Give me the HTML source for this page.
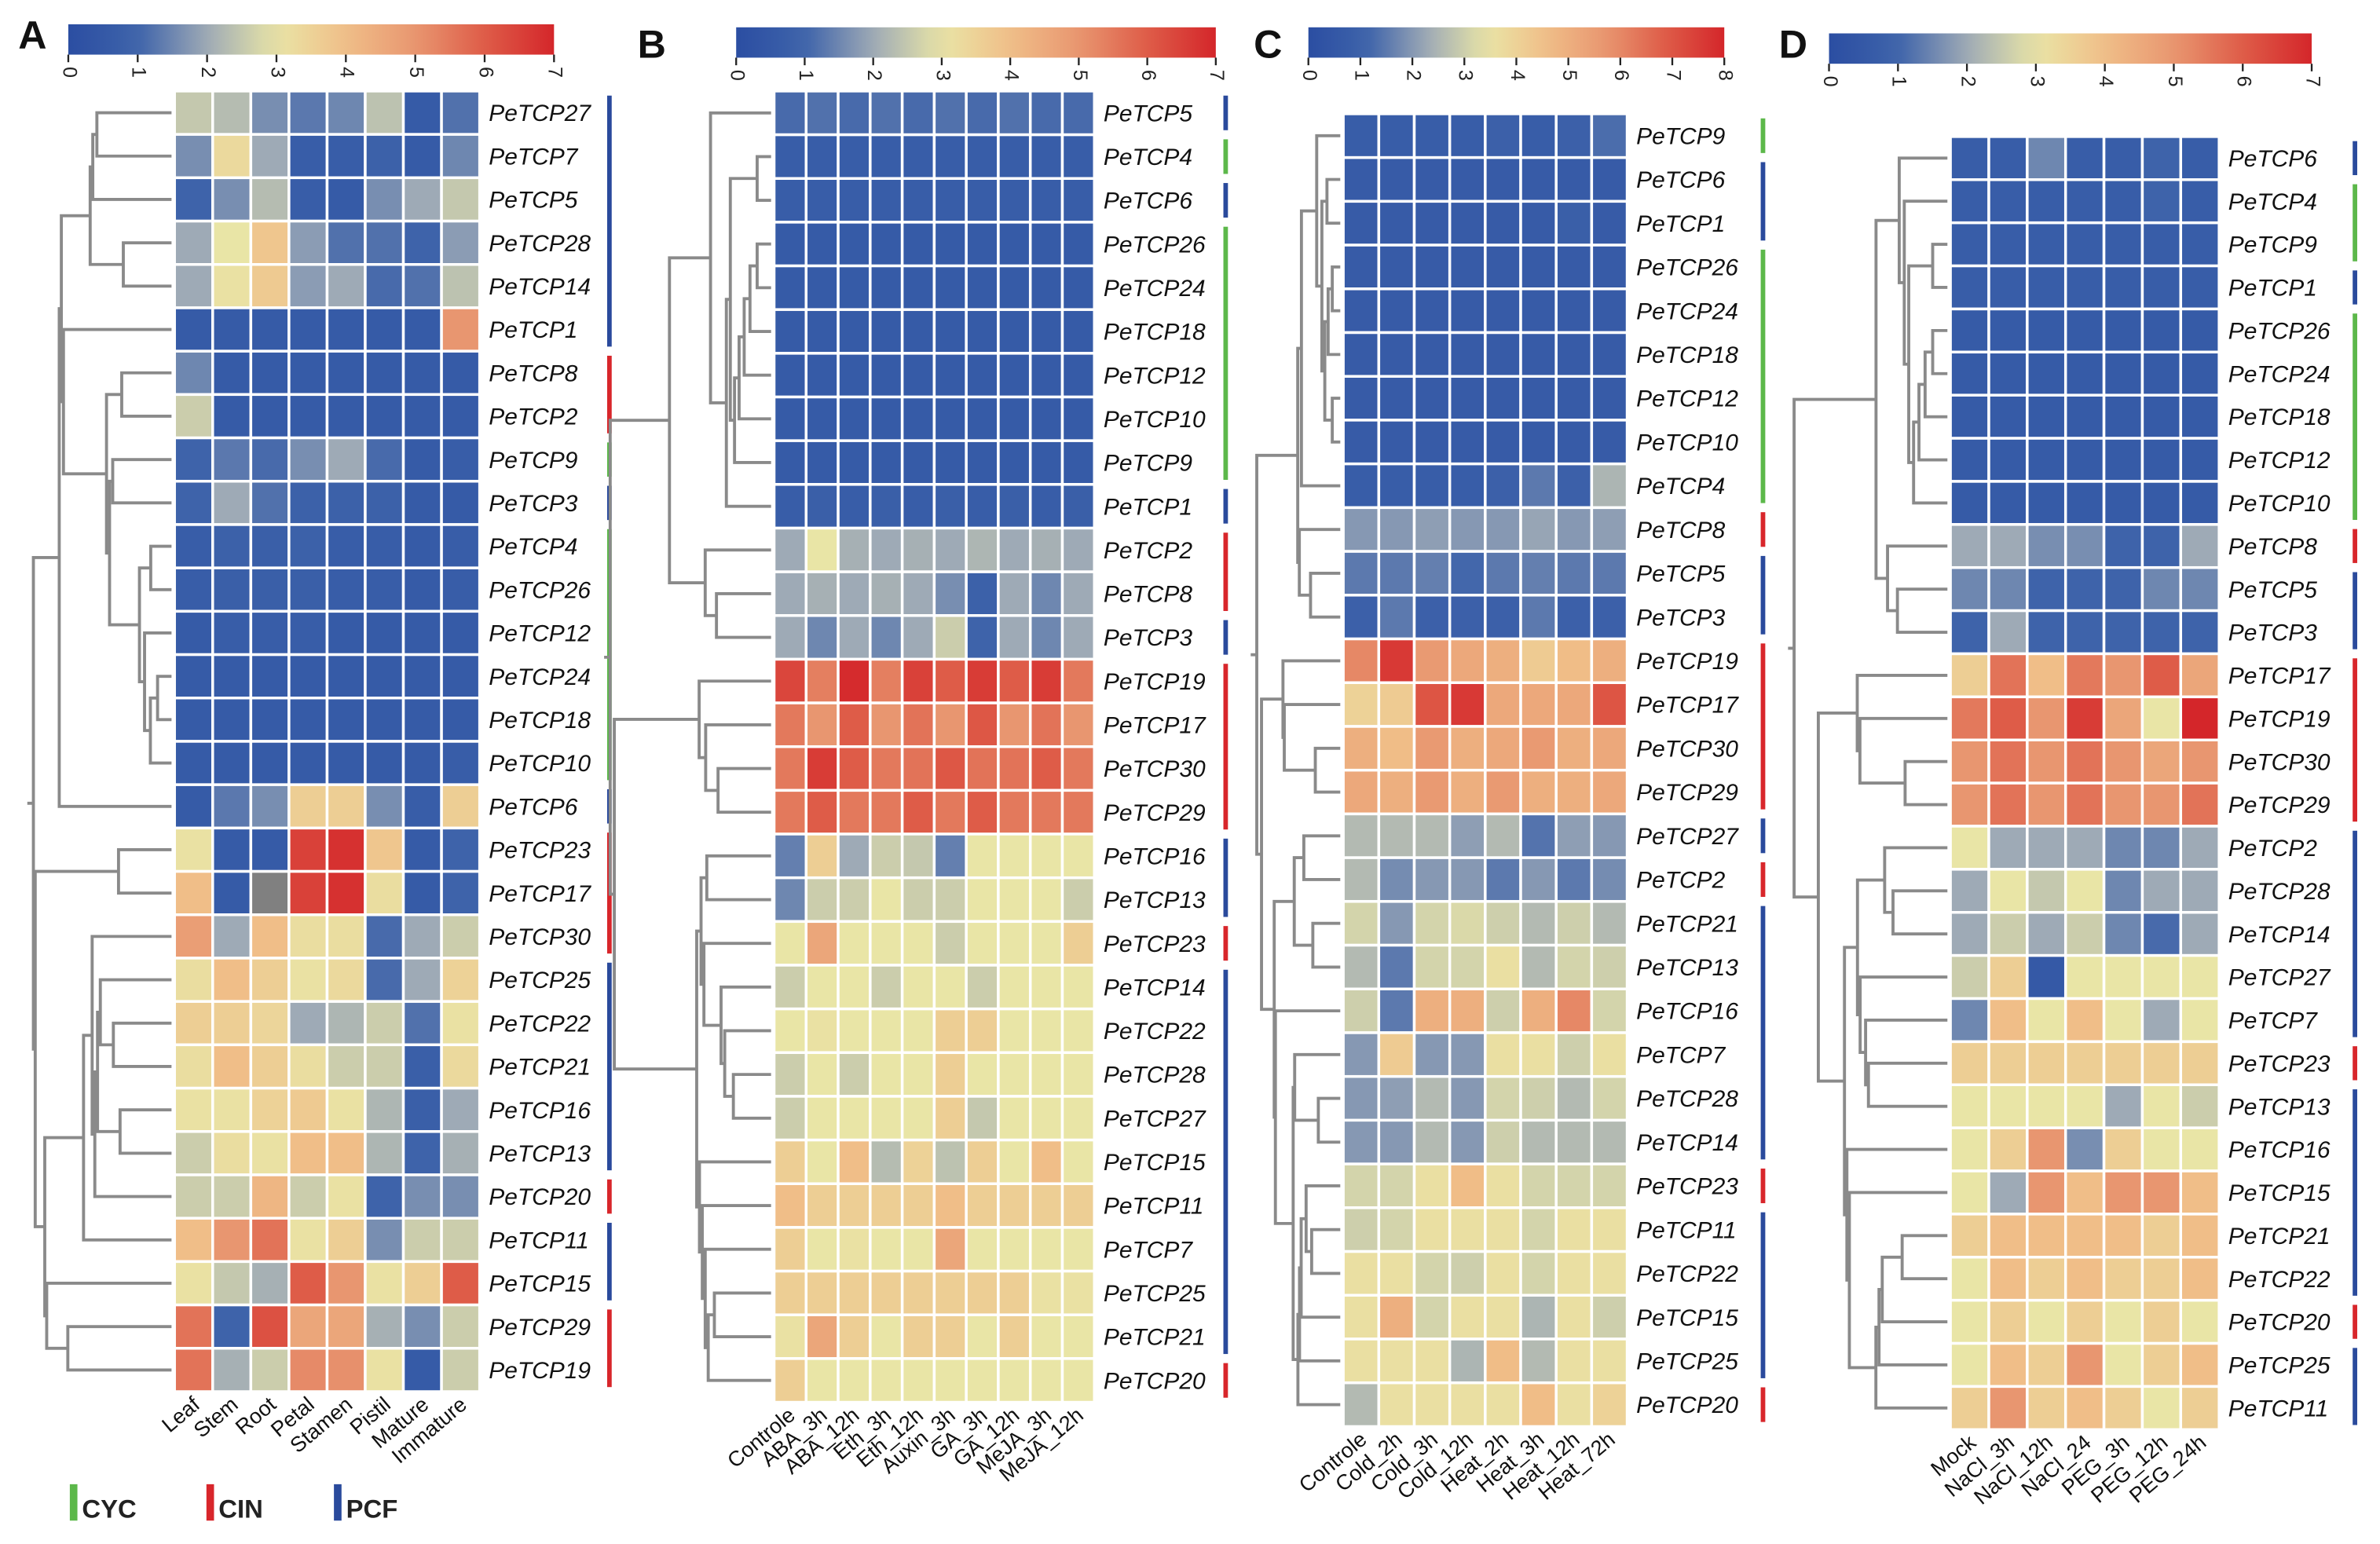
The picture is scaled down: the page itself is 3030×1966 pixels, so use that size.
<!DOCTYPE html>
<html><head><meta charset="utf-8"><style>
html,body{margin:0;padding:0;background:#fff}
svg{display:block}
text{font-family:"Liberation Sans",sans-serif}
</style></head><body>
<svg id="fig" xmlns="http://www.w3.org/2000/svg" width="3030" height="1966" viewBox="0 0 1568 1017.4" preserveAspectRatio="none">
<rect width="1568" height="1018" fill="#fff"/>
<g>
<rect x="46" y="978" width="5" height="24" fill="#5cb84a"/><text x="54" y="1000" font-size="17" font-weight="bold" fill="#222">CYC</text>
<rect x="136" y="978" width="5" height="24" fill="#d8262b"/><text x="144" y="1000" font-size="17" font-weight="bold" fill="#222">CIN</text>
<rect x="220" y="978" width="5" height="24" fill="#2a4a9c"/><text x="228" y="1000" font-size="17" font-weight="bold" fill="#222">PCF</text>
</g>
</svg>
<script>
// ---------- Panel A data ----------
const rowsA=["PeTCP27","PeTCP7","PeTCP5","PeTCP28","PeTCP14","PeTCP1","PeTCP8","PeTCP2","PeTCP9","PeTCP3","PeTCP4","PeTCP26","PeTCP12","PeTCP24","PeTCP18","PeTCP10","PeTCP6","PeTCP23","PeTCP17","PeTCP30","PeTCP25","PeTCP22","PeTCP21","PeTCP16","PeTCP13","PeTCP20","PeTCP11","PeTCP15","PeTCP29","PeTCP19"];
const colsA=["Leaf","Stem","Root","Petal","Stamen","Pistil","Mature","Immature"];
const valsA=[
[2.5,2.3,1.6,1.3,1.5,2.4,0.6,1.2],[1.6,3.3,2,0.7,0.7,0.9,0.6,1.5],[1,1.6,2.3,0.7,0.6,1.6,2,2.5],[2,3,3.8,1.8,1.2,1.2,1,1.8],[2,3.1,3.7,1.8,2,1.1,1.2,2.4],
[0.6,0.6,0.6,0.6,0.6,0.6,0.6,5],[1.5,0.6,0.6,0.6,0.6,0.6,0.6,0.6],[2.6,0.6,0.6,0.6,0.6,0.6,0.6,0.6],[1,1.3,1.1,1.6,2,1.1,0.6,0.7],[1,2,1.2,0.9,0.9,0.9,0.6,0.6],
[0.7,0.9,0.8,0.9,0.7,0.7,0.6,0.7],[0.7,0.8,0.8,0.8,0.7,0.7,0.6,0.7],[0.6,0.7,0.7,0.7,0.6,0.6,0.6,0.6],[0.6,0.6,0.6,0.6,0.6,0.6,0.6,0.6],[0.6,0.6,0.6,0.6,0.6,0.6,0.6,0.6],[0.6,0.6,0.6,0.6,0.6,0.6,0.6,0.7],
[0.6,1.3,1.6,3.6,3.6,1.6,0.7,3.6],[3.1,0.6,0.6,6.5,6.8,3.8,0.6,1],[4,0.6,-1,6.5,6.8,3.2,0.6,1],[4.8,2,4,3.2,3.2,1.1,2,2.6],
[3.2,4,3.6,3.1,3.3,1.1,2,3.5],[3.6,3.6,3.4,2,2.2,2.6,1.2,3.1],[3.2,4,3.6,3.2,2.6,2.6,0.8,3.3],[3.1,3.1,3.5,3.7,3.1,2.2,0.8,2],[2.6,3.2,3.1,4,4,2.2,1,2.1],
[2.6,2.6,4.2,2.6,3.1,1,1.6,1.6],[4,5,5.6,3.1,3.6,1.6,2.6,2.6],[3.1,2.5,2.1,6,5,3.1,3.6,6],[5.6,1,6.2,4.6,4.6,2.1,1.6,2.6],[5.6,2.1,2.6,5.2,5.1,3.1,0.6,2.6]];
const grpA="bbbbbbrrgbggggggbrrrbbbbbrbbrr";
// ---------- Panel B data ----------
const rowsB=["PeTCP5","PeTCP4","PeTCP6","PeTCP26","PeTCP24","PeTCP18","PeTCP12","PeTCP10","PeTCP9","PeTCP1","PeTCP2","PeTCP8","PeTCP3","PeTCP19","PeTCP17","PeTCP30","PeTCP29","PeTCP16","PeTCP13","PeTCP23","PeTCP14","PeTCP22","PeTCP28","PeTCP27","PeTCP15","PeTCP11","PeTCP7","PeTCP25","PeTCP21","PeTCP20"];
const colsB=["Controle","ABA_3h","ABA_12h","Eth_3h","Eth_12h","Auxin_3h","GA_3h","GA_12h","MeJA_3h","MeJA_12h"];
const valsB=[
[1.1,1.2,1.1,1.2,1.1,1.2,1.1,1.2,1.1,1.1],[0.7,0.7,0.7,0.7,0.7,0.7,0.7,0.7,0.7,0.7],[0.7,0.7,0.7,0.7,0.7,0.7,0.7,0.7,0.7,0.7],[0.6,0.6,0.6,0.6,0.6,0.6,0.6,0.6,0.6,0.6],[0.6,0.6,0.6,0.6,0.6,0.6,0.6,0.6,0.6,0.6],
[0.6,0.6,0.6,0.6,0.6,0.6,0.6,0.6,0.6,0.6],[0.6,0.6,0.6,0.6,0.6,0.6,0.6,0.6,0.6,0.6],[0.6,0.6,0.6,0.6,0.6,0.6,0.6,0.6,0.6,0.6],[0.6,0.6,0.6,0.6,0.6,0.6,0.6,0.6,0.6,0.6],[0.7,0.8,0.7,0.8,0.7,0.8,0.7,0.8,0.7,0.8],
[2,3,2.1,2,2.1,2,2.2,2,2.1,2],[2,2.1,2,2.1,2,1.6,0.9,2,1.5,2],[2,1.5,2,1.5,2,2.6,1,2,1.5,2],
[6.4,5.4,6.9,5.4,6.5,6,6.6,6,6.6,5.5],[5.5,5,6,5,5.6,5,6.1,5,5.6,5],[5.5,6.6,6,5.5,5.6,6.1,5.6,5.6,6,5.5],[5.5,6,5.5,5.5,6,5.5,6,5.5,5.5,5.5],
[1.4,3.6,2,2.6,2.5,1.4,3,3,3,3],[1.5,2.6,2.6,3,2.6,2.6,3,3,3,2.6],[3,4.6,3,3,3,2.6,3,3,3,3.6],[2.6,3,3,2.6,3,3,2.6,3,3,3],
[3,3.1,3,3,3,3.6,3.6,3,3,3],[2.6,3,2.6,3,3,3.6,3,3,3,3],[2.6,3,3,3,3,3.6,2.5,3,3,3],[3.6,3,4,2.3,3.5,2.4,3.6,3,4,3],
[4,3.6,3.6,3.6,3.6,4,3.6,3.6,3.6,3.6],[3.6,3,3.1,3,3,4.6,3,3,3,3],[3.6,3.6,3.6,3.6,3.6,3.6,3.6,3.6,3.1,3.1],[3.1,4.6,3.6,3,3.6,3.6,3,3.6,3,3],[3.6,3,3,3,3,3,3,3,3,3]];
const grpB="bgbggggggbrrbrrrrbbrbbbbbbbbbr";
// ---------- Panel C data ----------
const rowsC=["PeTCP9","PeTCP6","PeTCP1","PeTCP26","PeTCP24","PeTCP18","PeTCP12","PeTCP10","PeTCP4","PeTCP8","PeTCP5","PeTCP3","PeTCP19","PeTCP17","PeTCP30","PeTCP29","PeTCP27","PeTCP2","PeTCP21","PeTCP13","PeTCP16","PeTCP7","PeTCP28","PeTCP14","PeTCP23","PeTCP11","PeTCP22","PeTCP15","PeTCP25","PeTCP20"];
const colsC=["Controle","Cold_2h","Cold_3h","Cold_12h","Heat_2h","Heat_3h","Heat_12h","Heat_72h"];
const valsC=[
[0.8,0.8,0.8,0.8,1,0.8,1,1.3],[0.7,0.7,0.7,0.7,0.7,0.7,0.7,0.7],[0.7,0.7,0.7,0.7,0.7,0.7,0.9,0.7],[0.7,0.7,0.7,0.7,0.7,0.7,0.7,0.7],[0.7,0.7,0.7,0.7,0.7,0.7,0.7,0.7],
[0.7,0.7,0.7,0.7,0.7,0.7,0.7,0.7],[0.7,0.7,0.7,0.7,0.7,0.7,0.7,0.7],[0.7,0.7,0.7,0.7,0.7,0.7,0.7,0.7],[0.8,0.8,0.8,0.8,1,1.5,1,2.5],[2,2,2.1,2,2,2.2,2,2.1],
[1.5,1.5,1.6,1.2,1.5,1.6,1.5,1.5],[1,1.5,1,1,1,1.5,1,1],
[6,7.6,5.6,5.2,5,4.2,4.6,5],[4,4.2,7,7.6,5.2,5.2,5.2,7],[5,4.6,5.6,5,5.2,5.6,5,5.2],[5.2,5,5.6,5,5.6,5,5,5.2],
[2.6,2.6,2.6,2.1,2.6,1.4,2.1,2],[2.6,1.8,2,2,1.5,2,1.5,1.8],[3.1,2,3.1,3.2,3,2.6,3,2.6],[2.6,1.5,3.1,3.1,3.6,2.6,3.1,3],
[3,1.5,5,5,3,5,6,3.1],[2,4.2,2,2,3.6,3.6,3,3.6],[2,2.1,2.6,2,3.1,3,2.6,3.1],[2,2,2.6,2,3,2.6,2.6,2.6],
[3.1,3.1,3.6,4.6,3.6,3.1,3.1,3.1],[3,3.1,3.6,3.6,3.6,3.1,3.6,3.6],[3.6,3.6,3.1,3,3.6,3.1,3.6,3.6],[3.6,5,3.1,3.6,3.6,2.5,3.6,3],[3.6,3.6,3.6,2.5,4.6,2.6,3.6,3.6],[2.6,3.6,3.6,3.6,3.6,4.6,3.6,4]];
const grpC="gbbggggggrbbrrrrbrbbbbbbrbbbbr";
// ---------- Panel D data ----------
const rowsD=["PeTCP6","PeTCP4","PeTCP9","PeTCP1","PeTCP26","PeTCP24","PeTCP18","PeTCP12","PeTCP10","PeTCP8","PeTCP5","PeTCP3","PeTCP17","PeTCP19","PeTCP30","PeTCP29","PeTCP2","PeTCP28","PeTCP14","PeTCP27","PeTCP7","PeTCP23","PeTCP13","PeTCP16","PeTCP15","PeTCP21","PeTCP22","PeTCP20","PeTCP25","PeTCP11"];
const colsD=["Mock","NaCl_3h","NaCl_12h","NaCl_24","PEG_3h","PEG_12h","PEG_24h"];
const valsD=[
[0.7,0.7,1.5,0.7,0.7,1,0.7],[0.7,0.7,0.7,0.7,0.7,1,0.7],[0.7,0.7,0.7,0.7,0.7,0.7,0.7],[0.7,0.7,0.7,0.7,0.7,0.7,0.7],[0.6,0.6,0.6,0.6,0.6,0.6,0.6],
[0.6,0.6,0.6,0.6,0.6,0.6,0.6],[0.6,0.6,0.6,0.6,0.6,0.6,0.6],[0.6,0.6,0.6,0.6,0.6,0.6,0.6],[0.6,0.6,0.6,0.6,0.6,0.6,0.6],[2,2,1.6,1.6,1,1,2],
[1.5,1.5,1,1,1,1.5,1.5],[1,2,1,1,1,1,1],
[3.6,5.6,4,5.5,5,6,4.6],[5.5,6,5,6.6,4.6,3,7],[5,5.6,5,5.6,5,4.6,5],[5,5.6,5,5.6,5,5,5.6],
[3,2,2,2,1.5,1.5,2],[2,3,2.5,3,1.5,2,2],[2,2.6,2,2.6,1.5,1.1,2],[2.6,3.6,0.5,3,3,3,3],[1.5,4,3,4,3,2,3],
[3.6,3.6,3.6,3.6,3.6,3.6,3.6],[3,3,3,3,2,3,2.6],[3,3.6,5,1.6,3.6,3,3],[3,2,5,4,5,5,4],
[3.6,4,4,4,4,3.6,4],[3,4,3.6,4,3.6,3.6,4],[3,3.6,3,3.6,3,3.6,3],[3,4,3.6,5,3,3.6,4],[3.6,5,3.6,4,3.6,3,3.6]];
const grpD="bggbgggggrbbrrrrbbbbbrbbbbbrbb";

const NS="http://www.w3.org/2000/svg";
const svg=document.getElementById('fig');
function mk(tag,attrs,parent){const e=document.createElementNS(NS,tag);for(const k in attrs)e.setAttribute(k,attrs[k]);(parent||svg).appendChild(e);return e;}
const stops=[[0,[43,78,162]],[1/7,[62,99,170]],[2/7,[158,170,182]],[3/7,[233,229,166]],[4/7,[240,190,136]],[5/7,[232,150,112]],[6/7,[222,92,72]],[1,[212,38,42]]];
function cmap(f){f=Math.max(0,Math.min(1,f));for(let i=1;i<stops.length;i++){if(f<=stops[i][0]){const a=stops[i-1],b=stops[i];const t=(f-a[0])/(b[0]-a[0]);const c=a[1].map((v,j)=>Math.round(v+(b[1][j]-v)*t));return `rgb(${c})`;}}return 'rgb(212,38,42)';}
const gcol={g:'#5cb84a',r:'#d8262b',b:'#2a4a9c'};

function colorbar(g,x,y,w,h,vmax,id){
  const grad=mk('linearGradient',{id:id,x1:0,x2:1,y1:0,y2:0},g);
  for(let i=0;i<=20;i++)mk('stop',{offset:i/20,'stop-color':cmap(i/20)},grad);
  const cb=mk('rect',{x:x,y:y,width:w,height:h,fill:`url(#${id})`},g);
  
  
  for(let v=0;v<=vmax;v++){const tx=x+w*v/vmax;
    mk('line',{x1:tx,x2:tx,y1:y+h,y2:y+h+5,stroke:'#222','stroke-width':1.2},g);
    const t=mk('text',{x:tx,y:y+h+8,'font-size':13,fill:'#222',transform:`rotate(90 ${tx} ${y+h+8})`,'dominant-baseline':'middle'},g);
    
    
    t.textContent=v;}
}

function panel(p){
  const g=mk('g',{});
  
  
  const L=mk('text',{x:p.lx,y:p.ly,'font-size':26,'font-weight':'bold',fill:'#111'},g);
  
  
  L.textContent=p.letter;
  colorbar(g,p.cbx,p.cby,p.cbw,20,p.vmax,'grad'+p.letter);
  const n=p.rows.length,m=p.cols.length;
  const ch=(p.y1-p.y0)/n,cw=(p.x1-p.x0)/m;
  for(let i=0;i<n;i++){for(let j=0;j<m;j++){const v=p.vals[i][j];
    const r=mk('rect',{x:p.x0+j*cw,y:p.y0+i*ch,width:cw,height:ch,fill:v<0?'#808080':cmap(v/p.vmax),stroke:'#fff','stroke-width':1.8},g);
    
    }
    const t=mk('text',{x:p.x1+6,y:p.y0+(i+0.5)*ch+5.5,'font-size':15.5,'font-style':'italic',fill:'#111'},g);
    
    
    t.textContent=p.rows[i];}
  // column labels
  for(let j=0;j<m;j++){const cx=p.x0+(j+0.7)*cw,cy=p.y1+10;
    const t=mk('text',{x:cx,y:cy,'font-size':14,fill:'#111','text-anchor':'end',transform:`rotate(-40 ${cx} ${cy})`},g);
    
    
    t.textContent=p.cols[j];}
  // group bars
  let s=0;for(let i=1;i<=n;i++){if(i===n||p.grp[i]!==p.grp[s]){
    const b=mk('rect',{x:p.barx,y:p.y0+s*ch+3,width:3,height:(i-s)*ch-6,fill:gcol[p.grp[s]]},g);
    
    
    s=i;}}
  // dendrogram (adjacent agglomerative clustering preserving order)
  let cl=p.rows.map((r,i)=>({c:p.vals[i].map(v=>v<0?0:v),k:1,y:p.y0+(i+0.5)*ch,h:0}));
  const merges=[];
  while(cl.length>1){let best=-1,bd=1e9;
    for(let i=0;i<cl.length-1;i++){const a=cl[i],b=cl[i+1];let d=0;for(let j=0;j<m;j++)d+=(a.c[j]-b.c[j])**2;d=Math.sqrt(d);if(d<bd){bd=d;best=i;}}
    const a=cl[best],b=cl[best+1];const h=Math.max(bd,a.h,b.h)+0.15;
    const nc={c:a.c.map((v,j)=>(v*a.k+b.c[j]*b.k)/(a.k+b.k)),k:a.k+b.k,y:(a.y+b.y)/2,h:h};
    merges.push([a,b,nc]);cl.splice(best,2,nc);}
  const H=cl[0].h,xr=p.x0-2,W=xr-p.dx;
  const X=h=>xr-W*Math.pow(h/H,0.6);
  let d='';for(const [a,b,c] of merges){const xc=X(c.h);
    d+=`M${X(a.h)},${a.y}H${xc}V${b.y}H${X(b.h)}`;}
  mk('path',{d:d+`M${X(H)},${cl[0].y}H${X(H)-4}`,fill:'none',stroke:'#8a8a8a','stroke-width':2},g);
}
panel({letter:'A',lx:12,ly:32,cbx:45,cby:16,cbw:320,vmax:7,rows:rowsA,cols:colsA,vals:valsA,grp:grpA,x0:115,x1:316,y0:60,y1:917,barx:400,dx:22});
panel({letter:'B',lx:420,ly:38,cbx:485,cby:18,cbw:316,vmax:7,rows:rowsB,cols:colsB,vals:valsB,grp:grpB,x0:510,x1:721,y0:60,y1:924,barx:806,dx:402});
panel({letter:'C',lx:826,ly:38,cbx:862,cby:18,cbw:274,vmax:8,rows:rowsC,cols:colsC,vals:valsC,grp:grpC,x0:885,x1:1072,y0:75,y1:940,barx:1160,dx:828});
panel({letter:'D',lx:1172,ly:38,cbx:1205,cby:22,cbw:318,vmax:7,rows:rowsD,cols:colsD,vals:valsD,grp:grpD,x0:1285,x1:1462,y0:90,y1:942,barx:1550,dx:1182});
</script>
</body></html>
